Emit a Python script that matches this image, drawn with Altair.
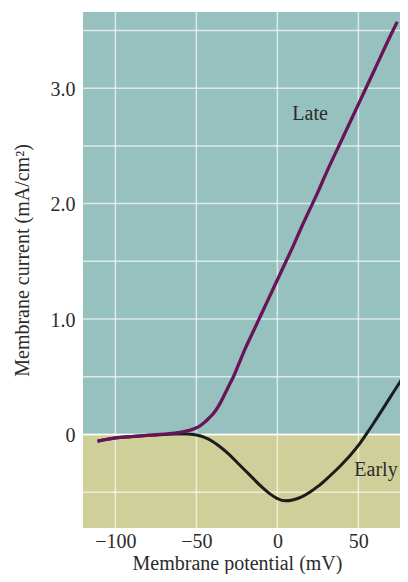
import altair as alt
import pandas as pd

# ---- data ----
late_v = [-111, -100, -90, -80, -70, -60, -55, -51, -48, -45, -42, -39, -36, -33, -30,
          -27, -24, -20, -15, -10, -5, 0, 5, 10, 15, 20, 25, 30, 40, 50, 60, 70, 74]
late_i = [-0.058, -0.03, -0.018, -0.007, 0.003, 0.018, 0.033, 0.052, 0.072, 0.105, 0.145,
          0.19, 0.255, 0.335, 0.42, 0.505, 0.605, 0.74, 0.89, 1.04, 1.19, 1.34, 1.49, 1.64,
          1.80, 1.95, 2.10, 2.26, 2.56, 2.86, 3.16, 3.46, 3.575]

early_v = [-111, -100, -90, -80, -70, -62, -56, -52, -50, -45, -40, -35, -30, -25, -20,
           -15, -10, -5, 0, 5, 10, 15, 20, 25, 30, 35, 40, 45, 50, 55, 60, 65, 70, 75, 81]
early_i = [-0.058, -0.03, -0.018, -0.007, 0.0, 0.005, 0.004, 0.0, -0.005, -0.025, -0.06,
           -0.11, -0.17, -0.24, -0.31, -0.38, -0.45, -0.51, -0.555, -0.575, -0.565, -0.54,
           -0.50, -0.45, -0.39, -0.325, -0.255, -0.18, -0.095, 0.005, 0.11, 0.22, 0.33,
           0.44, 0.57]

x_ticks = [-100, -50, 0, 50]
y_ticks = [0, 1, 2, 3]
y_grid = [-0.5, 0, 0.5, 1, 1.5, 2, 2.5, 3, 3.5]

band_lo = [0, -0.81]
band_hi = [3.66, 0]
band_fill = ["#97c1bf", "#cfcf99"]

label_text = ["Late", "Early"]
label_v = [20.2, 60.9]
label_i = [2.78, -0.31]

FONT = "Liberation Serif"
TXT = "#2b2b2b"
FS = 20
W, H = 317, 516

xs = alt.Scale(domain=[-120, 75.7], nice=False, zero=False)
ys = alt.Scale(domain=[-0.81, 3.66], nice=False, zero=False)

xaxis = alt.Axis(values=x_ticks, grid=False, domain=False, ticks=False,
                 labelPadding=3, labelFontSize=FS, labelFont=FONT, labelColor=TXT,
                 title="Membrane potential (mV)", titleFontSize=FS, titleFont=FONT,
                 titleFontWeight="normal", titleColor=TXT, titleX=154, titleY=41,
                 titleBaseline="alphabetic")
yaxis = alt.Axis(values=y_ticks, grid=False, domain=False, ticks=False,
                 labelExpr="datum.value == 0 ? '0' : format(datum.value, '.1f')",
                 labelPadding=8, labelFontSize=FS, labelFont=FONT, labelColor=TXT,
                 labelOffset=1,
                 title="Membrane current (mA/cm²)", titleFontSize=FS, titleFont=FONT,
                 titleFontWeight="normal", titleColor=TXT, titleX=-55, titleY=248,
                 titleBaseline="alphabetic")


def X(f):
    return alt.X(f, type="quantitative", scale=xs, axis=xaxis)


def Y(f):
    return alt.Y(f, type="quantitative", scale=ys, axis=yaxis)


bands = alt.Chart(pd.DataFrame({"lo": band_lo, "hi": band_hi, "fill": band_fill})).mark_rect().encode(
    x=alt.value(0), x2=alt.value(W), y=Y("lo"), y2="hi",
    color=alt.Color("fill:N", scale=None))

vgrid = alt.Chart(pd.DataFrame({"v": x_ticks})).mark_rule(
    color="white", opacity=0.65, strokeWidth=1.5).encode(x=X("v"))
hgrid = alt.Chart(pd.DataFrame({"i": y_grid})).mark_rule(
    color="white", opacity=0.65, strokeWidth=1.5).encode(y=Y("i"))
zero = alt.Chart(pd.DataFrame({"i": [0]})).mark_rule(
    color="white", strokeWidth=1.5).encode(y=Y("i"))

early = alt.Chart(pd.DataFrame({"v": early_v, "i": early_i})).mark_line(
    color="#1c1c1c", strokeWidth=3, interpolate="monotone", clip=True).encode(
    x=X("v"), y=Y("i"))
late = alt.Chart(pd.DataFrame({"v": late_v, "i": late_i})).mark_line(
    color="#6a1458", strokeWidth=3.3, interpolate="monotone", clip=True).encode(
    x=X("v"), y=Y("i"))

labels = alt.Chart(pd.DataFrame({"t": label_text, "v": label_v, "i": label_i})).mark_text(
    font=FONT, fontSize=FS, color=TXT, align="center", baseline="middle").encode(
    x=X("v"), y=Y("i"), text="t:N")

chart = alt.layer(bands, vgrid, hgrid, zero, early, late, labels).properties(
    width=W, height=H,
    autosize=alt.AutoSizeParams(type="none"),
    padding={"left": 75, "top": 4, "right": 0, "bottom": 46},
).configure_view(stroke=None)

chart.save("out.html", embed_options={"renderer": "svg", "actions": False})
